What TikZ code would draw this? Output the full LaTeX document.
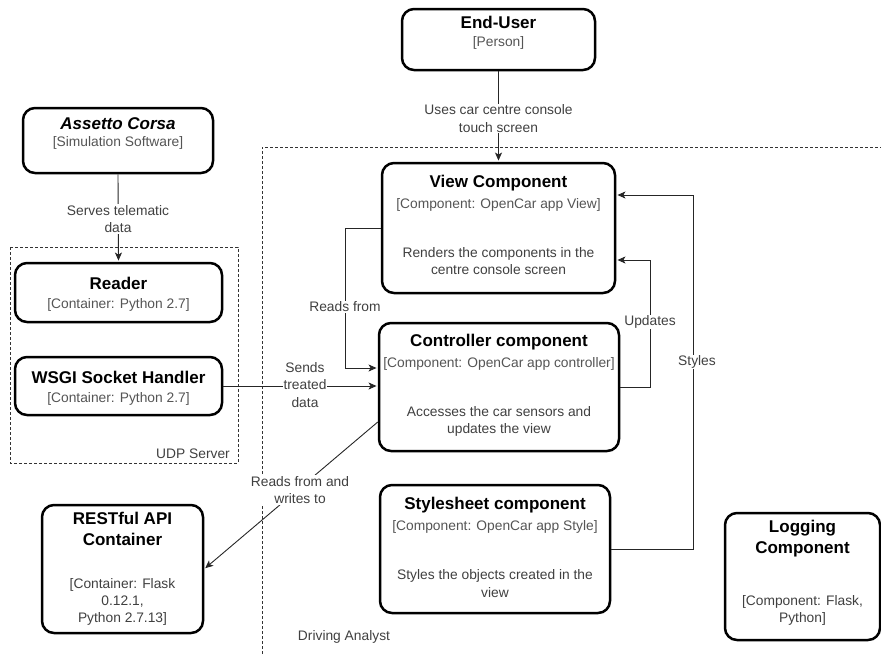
\documentclass[tikz,border=0pt]{standalone}
\usepackage{fontspec}
\setmainfont{Liberation Sans}
\usetikzlibrary{arrows.meta,calc}
\definecolor{subgray}{HTML}{555555}
\definecolor{txtgray}{HTML}{404040}
\begin{document}
\begin{tikzpicture}[x=1pt,y=-1pt,
  box/.style={draw=black, line width=2.5pt, rounded corners=12pt, fill=white, inner sep=0pt},
  ttl/.style={font=\fontsize{17}{21}\selectfont\bfseries, text=black, align=center, inner sep=0pt},
  sub/.style={font=\fontsize{13.8}{17}\selectfont, text=subgray, align=center, inner sep=0pt},
  dsc/.style={font=\fontsize{13.8}{17.3}\selectfont, text=txtgray, align=center, inner sep=0pt},
  conn/.style={draw=black!85, line width=0.9pt, shorten >=1.2pt, -{Stealth[length=8pt,width=7pt,inset=2pt]}},
  elab/.style={font=\fontsize{13.8}{17.3}\selectfont, text=txtgray, align=center, fill=white, inner sep=1pt},
  bound/.style={draw=black!80, line width=0.8pt, dash pattern=on 3pt off 2pt},
  blab/.style={font=\fontsize{13.8}{16}\selectfont, text=txtgray, inner sep=0pt},
]
\useasboundingbox (0,0) rectangle (881,654);

% boundaries
\draw[bound] (10,247) rectangle (238,463);
\node[blab] (udpL) at (193,454) {UDP Server};
\draw[bound] (262,654) -- (262,147) -- (881,147);
\node[blab] (daL) at (344,637) {Driving Analyst};

% boxes
\node[box, minimum width=193pt, minimum height=61pt] (user) at (498.5,39.5) {};
\node[box, minimum width=190pt, minimum height=65pt] (assetto) at (118,140.5) {};
\node[box, minimum width=207pt, minimum height=59pt] (reader) at (118.5,292.5) {};
\node[box, minimum width=207pt, minimum height=58pt] (wsgi) at (118.5,386) {};
\node[box, minimum width=233pt, minimum height=130pt] (view) at (498.5,228) {};
\node[box, minimum width=240pt, minimum height=128pt] (ctrl) at (499,387) {};
\node[box, minimum width=230pt, minimum height=128pt] (style) at (495,549) {};
\node[box, minimum width=155pt, minimum height=127pt] (log) at (802.5,576.5) {};
\node[box, minimum width=161pt, minimum height=128pt] (rest) at (122.5,569) {};

% texts
\node[ttl] (userT) at (498.5,22) {End-User};
\node[sub] (userS) at (498.5,43) {[Person]};

\node[ttl, font=\fontsize{17}{21}\selectfont\bfseries\itshape] (assT) at (118,124) {Assetto Corsa};
\node[sub] (assS) at (118,143) {[Simulation Software]};

\node[ttl] (readT) at (118.5,283) {Reader};
\node[sub] (readS) at (118.5,305) {[Container: Python 2.7]};

\node[ttl] (wsgiT) at (118.5,377) {WSGI Socket Handler};
\node[sub] (wsgiS) at (118.5,399) {[Container: Python 2.7]};

\node[ttl] (viewT) at (498.5,183) {View Component};
\node[sub] (viewS) at (498.5,205) {[Component: OpenCar app View]};
\node[dsc] (viewD) at (498.5,261) {Renders the components in the\\centre console screen};

\node[ttl] (ctrlT) at (499,342) {Controller component};
\node[sub] (ctrlS) at (499,364) {[Component: OpenCar app controller]};
\node[dsc] (ctrlD) at (499,421.5) {Accesses the car sensors and\\updates the view};

\node[ttl] (styT) at (495,505) {Stylesheet component};
\node[sub] (styS) at (495,527) {[Component: OpenCar app Style]};
\node[dsc] (styD) at (495,583.5) {Styles the objects created in the\\view};

\node[ttl] (logT) at (802.5,538.5) {Logging\\Component};
\node[dsc] (logD) at (802.5,610.5) {[Component: Flask,\\Python]};

\node[ttl] (restT) at (122.5,528.5) {RESTful API\\Container};
\node[dsc] (restD) at (122.5,602) {[Container: Flask\\0.12.1,\\Python 2.7.13]};

% connectors
\draw[conn] (user.south) -- (view.north);
\node[elab] (userL) at (498.5,118.5) {Uses car centre console\\touch screen};

\draw[conn] (assetto.south) -- (reader.north);
\node[elab] (assL) at (118,219) {Serves telematic\\data};

\draw[conn] (wsgi.east) -- (wsgi.east -| ctrl.west);
\node[elab] (sendL) at (305,385) {Sends\\treated\\data};

\coordinate (rf) at (345,368);
\draw[conn] (view.west) -| (rf) -- (rf -| ctrl.west);
\node[elab] (rfL) at (345,307) {Reads from};

\coordinate (up) at (650,260);
\draw[conn] (ctrl.east) -| (up) -- (up -| view.east);
\node[elab] (upL) at (650,322) {Updates};

\coordinate (st) at (693,195);
\draw[conn] (style.east) -| (st) -- (st -| view.east);
\node[elab] (stL) at (697,362) {Styles};

\coordinate (rw) at ($(ctrl.west)+(0,35)$);
\draw[conn] (rw) -- (rest.east);
\node[elab] (rwL) at (300,490) {Reads from and\\writes to};
\end{tikzpicture}
\end{document}
